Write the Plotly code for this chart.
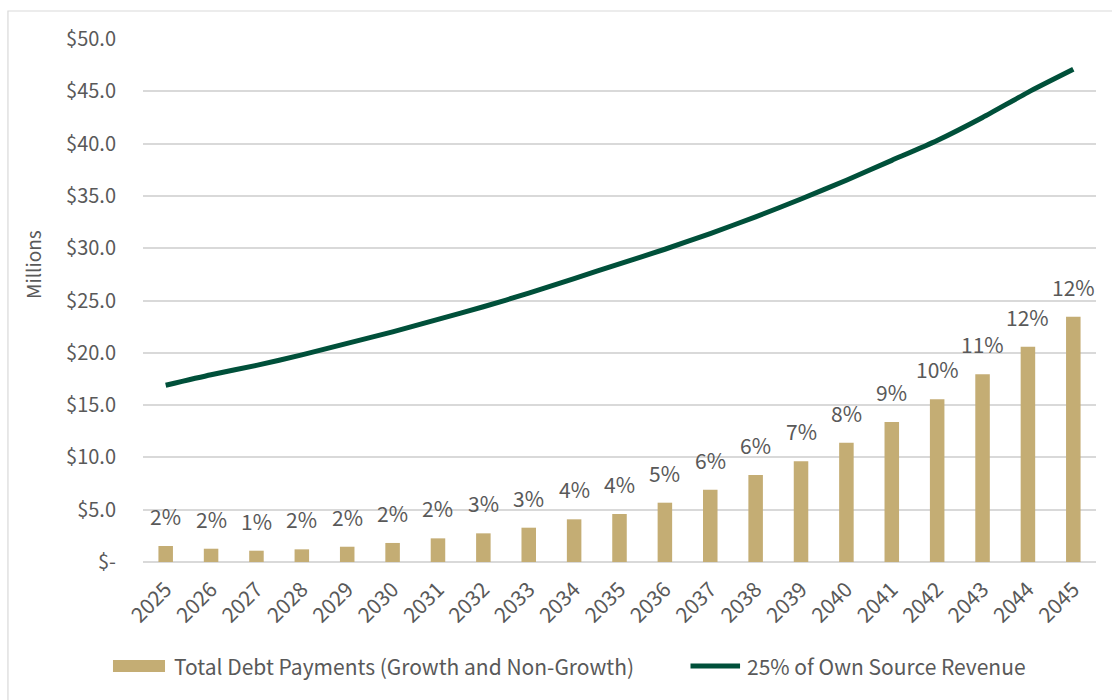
import plotly.graph_objects as go

# Fiscal years on the category axis
years = [str(y) for y in range(2025, 2046)]

# Total debt payments, $ millions
debt_payments = [1.53, 1.27, 1.08, 1.21, 1.46, 1.82, 2.26, 2.74, 3.28, 4.08,
                 4.59, 5.67, 6.91, 8.32, 9.63, 11.40, 13.38, 15.55, 17.94, 20.58, 23.45]

# 25% of own source revenue, $ millions
revenue_25 = [16.9, 17.9, 18.8, 19.8, 20.9, 22.0, 23.2, 24.4, 25.7, 27.1,
              28.5, 29.9, 31.4, 33.0, 34.7, 36.5, 38.4, 40.3, 42.5, 44.9, 47.1]

# Debt payments as a share of revenue, shown above each bar
pct_labels = ["2%", "2%", "1%", "2%", "2%", "2%", "2%", "3%", "3%", "4%",
              "4%", "5%", "6%", "6%", "7%", "8%", "9%", "10%", "11%", "12%", "12%"]

# Value axis ticks
y_ticks = [0, 5, 10, 15, 20, 25, 30, 35, 40, 45, 50]
y_tick_text = ["$-", "$5.0", "$10.0", "$15.0", "$20.0", "$25.0",
               "$30.0", "$35.0", "$40.0", "$45.0", "$50.0"]

bar_name = "Total Debt Payments (Growth and Non-Growth)"
line_name = "25% of Own Source Revenue"

FONT = "Noto Sans CJK JP"
TEXT_GREY = "#595959"
BAR_COLOR = "#C4AD74"
LINE_COLOR = "#00503A"
GRID = "#D9D9D9"

fig = go.Figure()

fig.add_trace(go.Bar(
    x=years, y=debt_payments, name=bar_name,
    marker=dict(color=BAR_COLOR, line=dict(width=0)),
    showlegend=False,
))

fig.add_trace(go.Scatter(
    x=years, y=revenue_25, name=line_name, mode="lines",
    line=dict(color=LINE_COLOR, width=5, shape="spline", smoothing=0.6),
    showlegend=False,
))

annotations = []
# percentage labels above bars (x given as category index)
for i, (val, lab) in enumerate(zip(debt_payments, pct_labels)):
    annotations.append(dict(
        x=i, y=val, xref="x", yref="y", text=lab, showarrow=False,
        yanchor="bottom", yshift=13,
        font=dict(family=FONT, size=21, color=TEXT_GREY),
    ))

# Axis title
annotations.append(dict(
    x=-0.1154, y=0.568, xref="paper", yref="paper", text="Millions",
    showarrow=False, textangle=-90, xanchor="center", yanchor="middle",
    font=dict(family=FONT, size=19, color=TEXT_GREY),
))

# Legend entries
annotations.append(dict(
    x=0.0304, y=-0.1989, xref="paper", yref="paper", text=bar_name,
    showarrow=False, xanchor="left", yanchor="middle",
    font=dict(family=FONT, size=21, color=TEXT_GREY),
))
annotations.append(dict(
    x=0.6317, y=-0.1989, xref="paper", yref="paper", text=line_name,
    showarrow=False, xanchor="left", yanchor="middle",
    font=dict(family=FONT, size=21, color=TEXT_GREY),
))

shapes = [
    # chart frame
    dict(type="rect", xref="paper", yref="paper",
         x0=-0.1417, x1=1.06, y0=-0.35, y1=1.0535,
         line=dict(color=GRID, width=1.2), fillcolor="rgba(0,0,0,0)", layer="below"),
    # legend swatch for bars
    dict(type="rect", xref="paper", yref="paper",
         x0=-0.0315, x1=0.0231, y0=-0.2103, y1=-0.1874,
         line=dict(width=0), fillcolor=BAR_COLOR),
    # legend swatch for line
    dict(type="line", xref="paper", yref="paper",
         x0=0.5745, x1=0.6265, y0=-0.1989, y1=-0.1989,
         line=dict(color=LINE_COLOR, width=5)),
]

fig.update_layout(
    width=1112, height=700,
    margin=dict(l=143, r=16, t=39, b=138),
    paper_bgcolor="white", plot_bgcolor="white",
    bargap=0.68,
    font=dict(family=FONT, color=TEXT_GREY),
    annotations=annotations,
    shapes=shapes,
)

fig.update_xaxes(
    type="category", range=[-0.5, len(years) - 0.5], tickangle=-45,
    tickfont=dict(family=FONT, size=21, color=TEXT_GREY),
    showgrid=False, showline=False, ticks="", ticklabelstandoff=10,
)

fig.update_yaxes(
    range=[0, 50], tickvals=y_ticks, ticktext=y_tick_text,
    tickfont=dict(family=FONT, size=20, color=TEXT_GREY),
    showgrid=True, gridcolor=GRID, gridwidth=1.5,
    zeroline=True, zerolinecolor=GRID, zerolinewidth=1.5,
    showline=False, ticks="", ticklabelstandoff=26,
)

fig.write_html("out.html")
